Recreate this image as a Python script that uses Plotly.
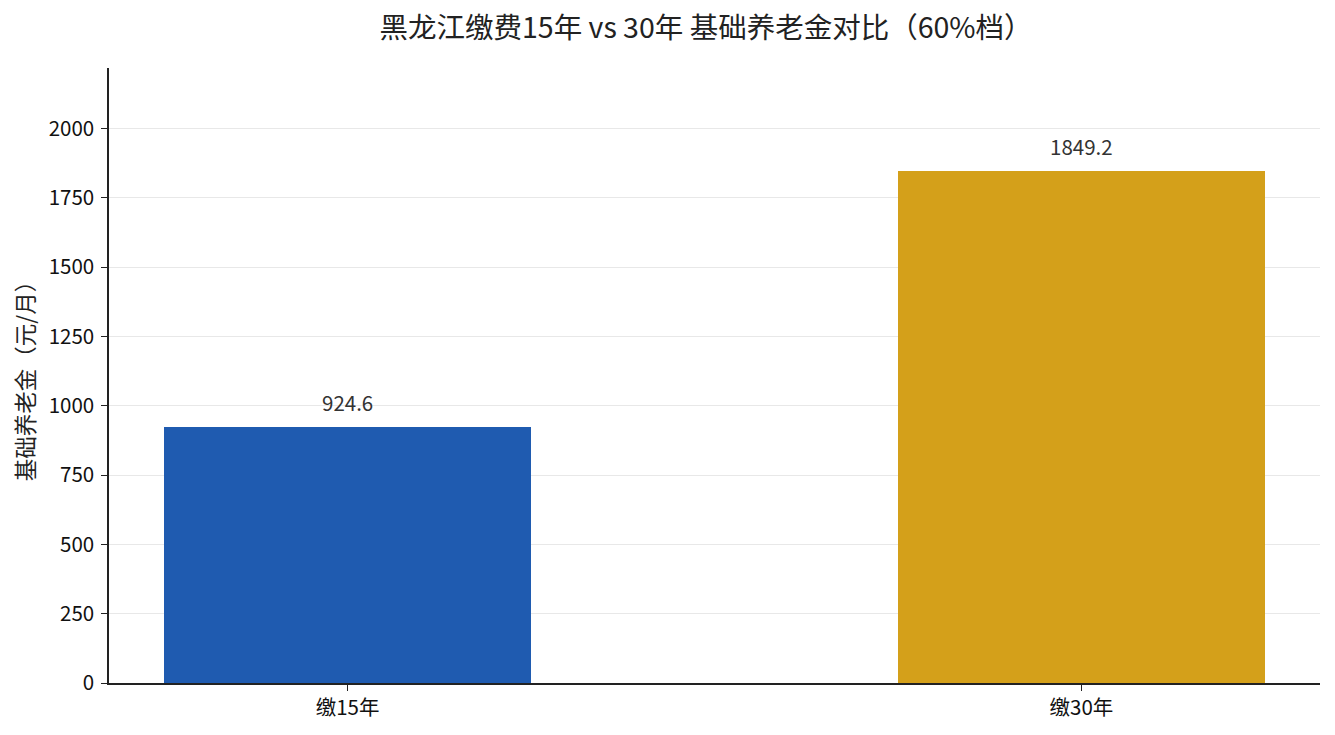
import plotly.graph_objects as go

categories = ['缴15年', '缴30年']
pension = [924.6, 1849.2]
bar_colors = ['#1f5bb0', '#d4a01a']
y_ticks = [0, 250, 500, 750, 1000, 1250, 1500, 1750, 2000]

FONT = 'Noto Sans CJK SC'

fig = go.Figure()
fig.add_trace(go.Bar(
    x=[0, 1],
    y=pension,
    width=0.5,
    marker=dict(color=bar_colors, line=dict(width=0)),
    hoverinfo='skip',
    showlegend=False,
))

for i, v in enumerate(pension):
    fig.add_annotation(
        x=i, y=v, text=f'{v:.1f}',
        showarrow=False, yanchor='bottom', yshift=8,
        font=dict(family=FONT, size=20.5, color='#333333'),
    )

# page body has an 8px margin, so the figure is sized to fit inside it
fig.update_layout(
    width=1319, height=719,
    paper_bgcolor='white', plot_bgcolor='white',
    margin=dict(l=101, r=7, t=60, b=44),
    title=dict(
        text='黑龙江缴费15年 vs 30年 基础养老金对比（60%档）',
        xref='paper', x=0.493, xanchor='center', y=0.972, yanchor='middle',
        font=dict(family=FONT, size=28.5, color='#222222'),
    ),
    font=dict(family=FONT),
    bargap=0,
)
fig.update_xaxes(
    range=[-0.325, 1.325],
    tickvals=[0, 1], ticktext=categories,
    showline=True, linecolor='#222222', linewidth=1.5,
    ticks='outside', ticklen=6, tickwidth=1.3, tickcolor='#222222',
    showgrid=False, zeroline=False,
    tickfont=dict(family=FONT, size=20.5, color='#111111'),
)
fig.update_yaxes(
    range=[0, 1849.2 * 1.2],
    tickvals=y_ticks,
    showline=True, linecolor='#222222', linewidth=1.5,
    ticks='outside', ticklen=6, tickwidth=1.3, tickcolor='#222222',
    ticklabelstandoff=3,
    showgrid=True, gridcolor='#e8e8e8', gridwidth=0.8,
    zeroline=False, layer='above traces',
    tickfont=dict(family=FONT, size=20.5, color='#111111'),
    title=dict(text='基础养老金（元/月）', standoff=10,
               font=dict(family=FONT, size=22.5, color='#222222')),
)

fig.write_html('out.html')
